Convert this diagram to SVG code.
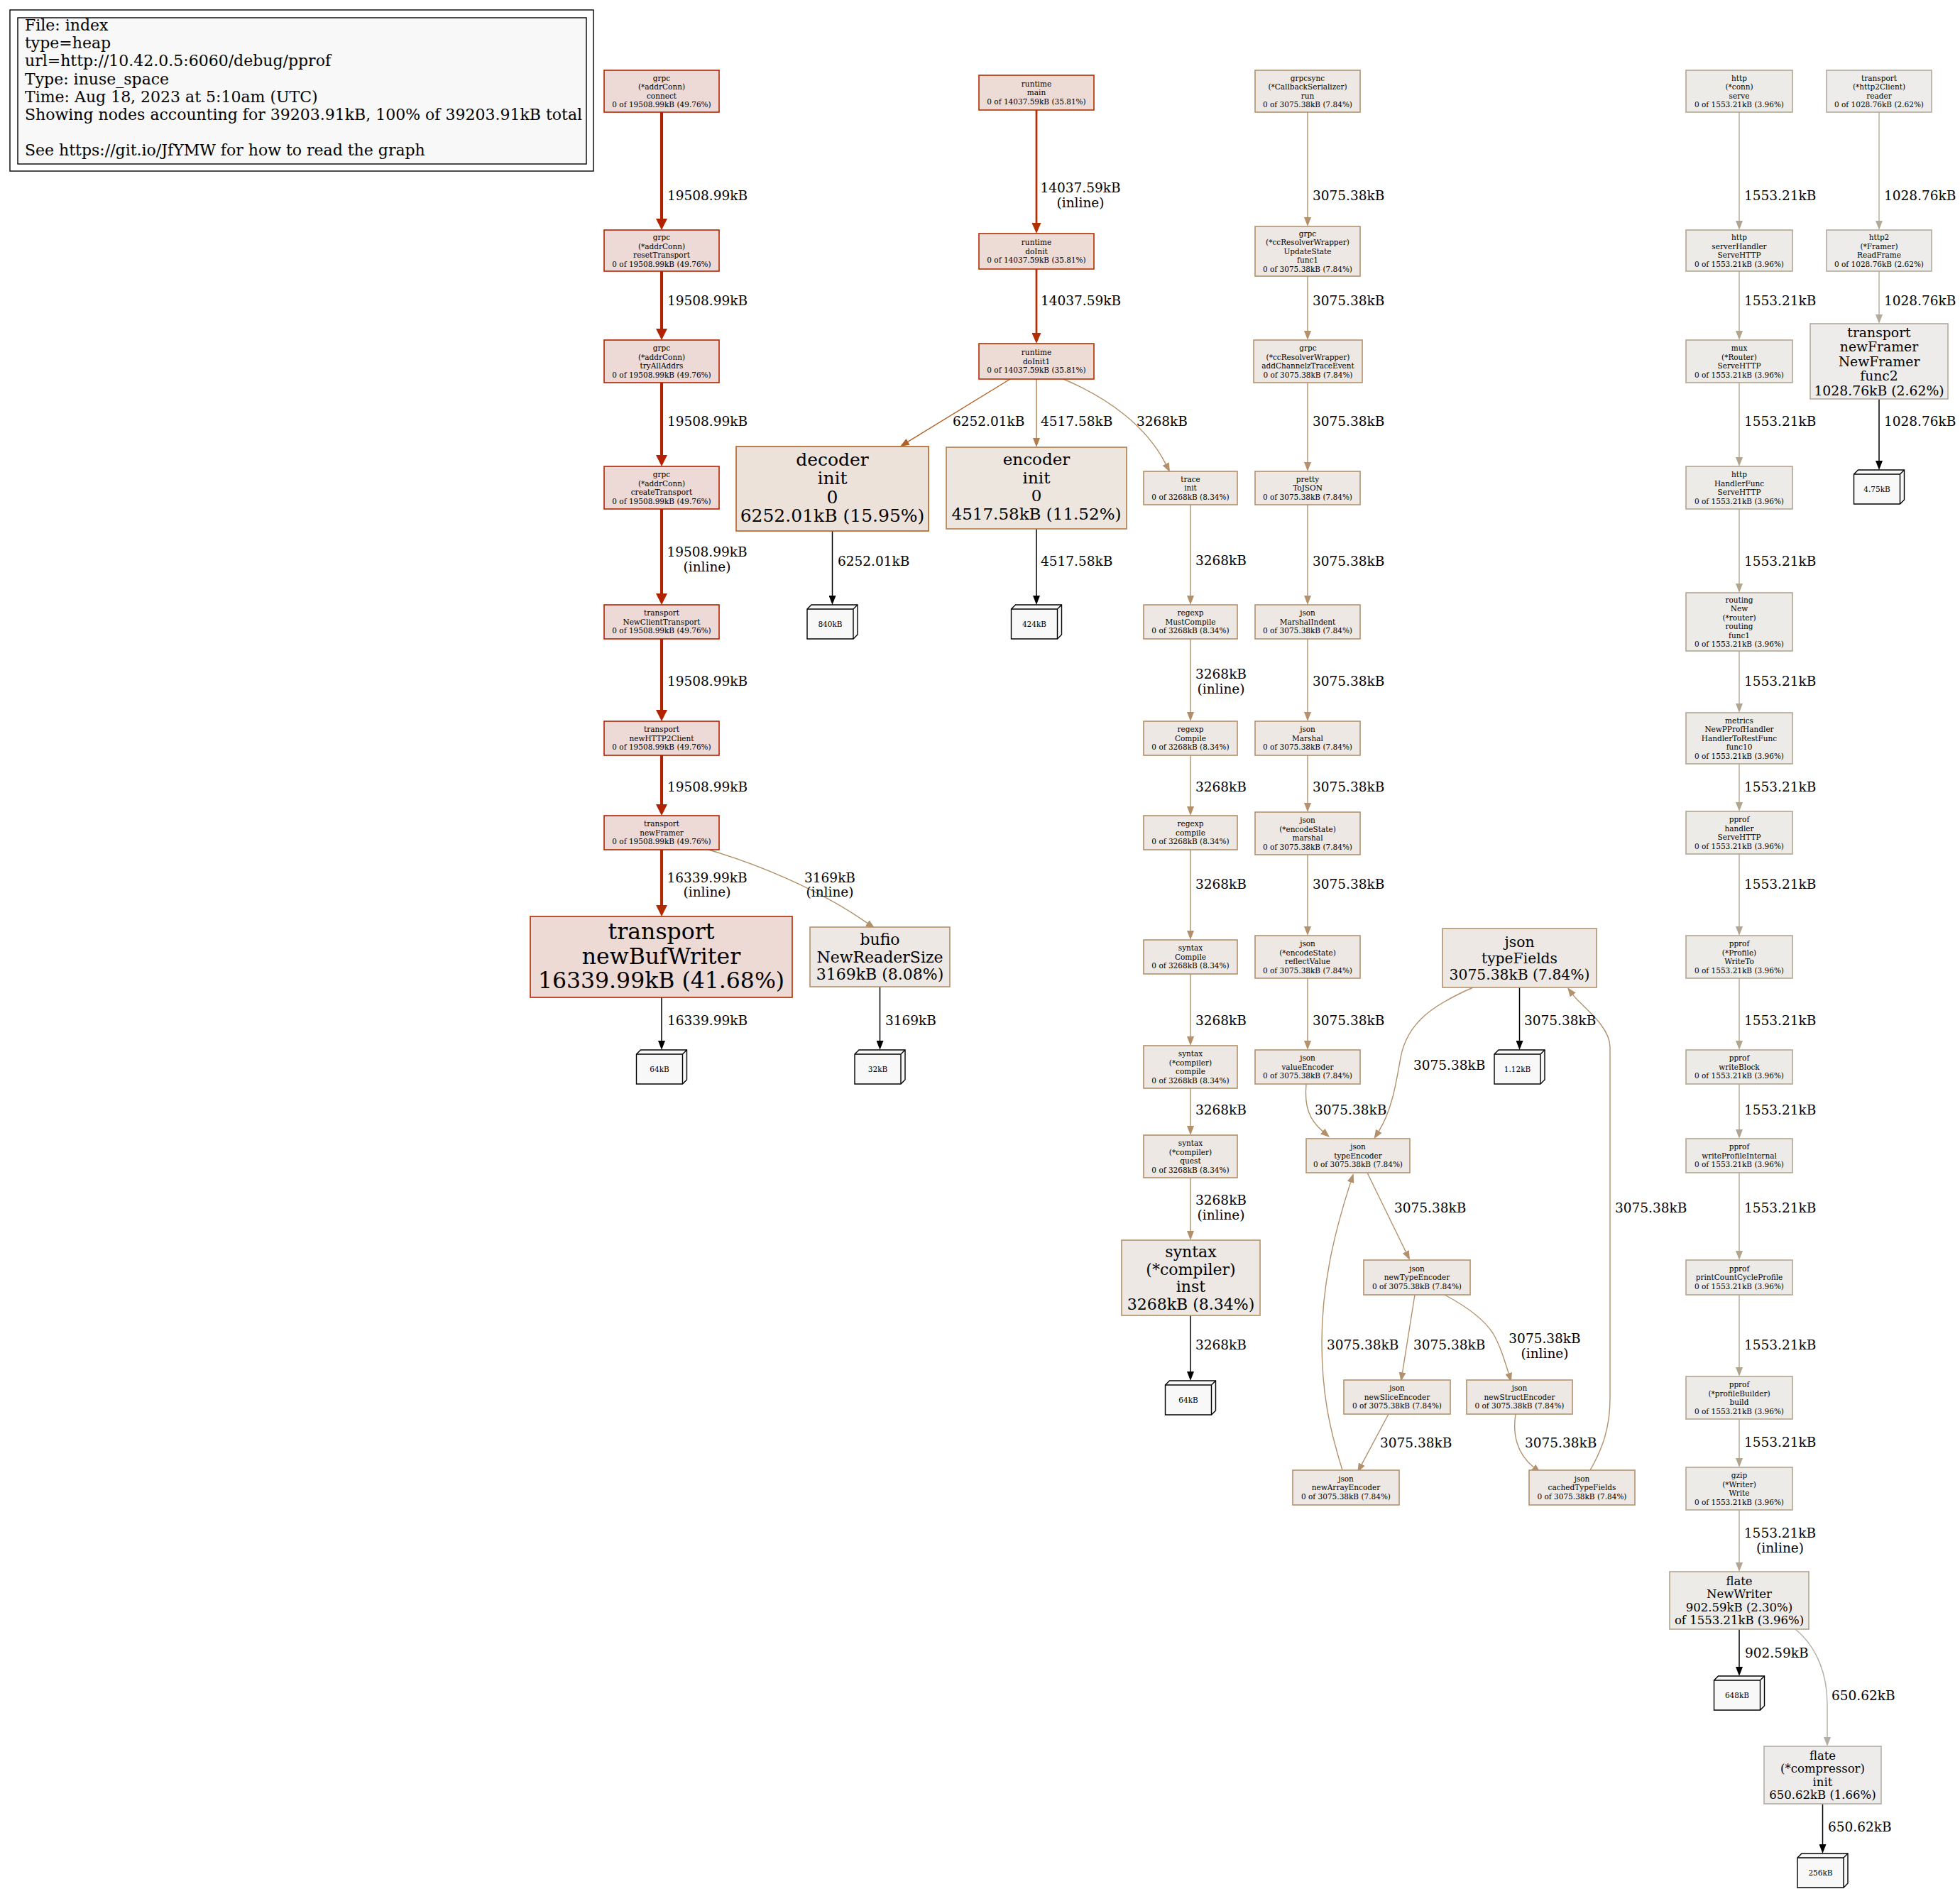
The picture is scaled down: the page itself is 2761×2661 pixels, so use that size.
<svg xmlns="http://www.w3.org/2000/svg" width="2761" height="2661" viewBox="0 0 2761 2661">
<style>
text{font-family:"DejaVu Serif","Liberation Serif",serif;fill:#000}
.n text{text-anchor:middle}
.s{font-size:10.5px}
.lb{font-size:18.5px}
.lm{font-size:18.5px;text-anchor:middle}
.lf{font-size:10.5px;text-anchor:middle}
.e path{fill:none}
.leaf path{fill:#f8f8f8;stroke:#000;stroke-width:1.4}
.leaf path.i{fill:none}
.r1 rect{fill:#edd9d5;stroke:#b22100;stroke-width:1.6}
.r2 rect{fill:#eddad5;stroke:#b22900;stroke-width:1.6}
.r3 rect{fill:#eddbd5;stroke:#b22f00;stroke-width:1.6}
.o1 rect{fill:#ede2da;stroke:#b26024;stroke-width:1.6}
.o2 rect{fill:#ede6df;stroke:#b27c4b;stroke-width:1.6}
.t1 rect{fill:#ede8e3;stroke:#b28f68;stroke-width:1.6}
.t2 rect{fill:#ede8e3;stroke:#b2906a;stroke-width:1.6}
.t3 rect{fill:#ede8e3;stroke:#b2916c;stroke-width:1.6}
.g1 rect{fill:#edebe8;stroke:#b2a58f;stroke-width:1.6}
.g2 rect{fill:#edecea;stroke:#b2aa9b;stroke-width:1.6}
.g3 rect{fill:#edeceb;stroke:#b2aea3;stroke-width:1.6}
</style>
<defs>
<marker id="aR1" markerUnits="userSpaceOnUse" markerWidth="16" markerHeight="16" viewBox="0 0 16 16" refX="0" refY="8" orient="auto"><path d="M0,0 L16,8 L0,16 z" fill="#b22100"/></marker>
<marker id="aR2" markerUnits="userSpaceOnUse" markerWidth="16" markerHeight="16" viewBox="0 0 16 16" refX="0" refY="8" orient="auto"><path d="M0,0 L16,8 L0,16 z" fill="#b22900"/></marker>
<marker id="aR3" markerUnits="userSpaceOnUse" markerWidth="15" markerHeight="13" viewBox="0 0 15 13" refX="0" refY="6.5" orient="auto"><path d="M0,0 L15,6.5 L0,13 z" fill="#b22f00"/></marker>
<marker id="aO1" markerUnits="userSpaceOnUse" markerWidth="13" markerHeight="10" viewBox="0 0 13 10" refX="0" refY="5" orient="auto"><path d="M0,0 L13,5 L0,10 z" fill="#b26024"/></marker>
<marker id="aO2" markerUnits="userSpaceOnUse" markerWidth="13" markerHeight="10" viewBox="0 0 13 10" refX="0" refY="5" orient="auto"><path d="M0,0 L13,5 L0,10 z" fill="#b27c4b"/></marker>
<marker id="aT1" markerUnits="userSpaceOnUse" markerWidth="13" markerHeight="10" viewBox="0 0 13 10" refX="0" refY="5" orient="auto"><path d="M0,0 L13,5 L0,10 z" fill="#b28f68"/></marker>
<marker id="aT2" markerUnits="userSpaceOnUse" markerWidth="13" markerHeight="10" viewBox="0 0 13 10" refX="0" refY="5" orient="auto"><path d="M0,0 L13,5 L0,10 z" fill="#b2906a"/></marker>
<marker id="aT3" markerUnits="userSpaceOnUse" markerWidth="13" markerHeight="10" viewBox="0 0 13 10" refX="0" refY="5" orient="auto"><path d="M0,0 L13,5 L0,10 z" fill="#b2916c"/></marker>
<marker id="aG1" markerUnits="userSpaceOnUse" markerWidth="13" markerHeight="10" viewBox="0 0 13 10" refX="0" refY="5" orient="auto"><path d="M0,0 L13,5 L0,10 z" fill="#b2a58f"/></marker>
<marker id="aG2" markerUnits="userSpaceOnUse" markerWidth="13" markerHeight="10" viewBox="0 0 13 10" refX="0" refY="5" orient="auto"><path d="M0,0 L13,5 L0,10 z" fill="#b2aa9b"/></marker>
<marker id="aG3" markerUnits="userSpaceOnUse" markerWidth="13" markerHeight="10" viewBox="0 0 13 10" refX="0" refY="5" orient="auto"><path d="M0,0 L13,5 L0,10 z" fill="#b2aea3"/></marker>
<marker id="aK" markerUnits="userSpaceOnUse" markerWidth="13" markerHeight="10" viewBox="0 0 13 10" refX="0" refY="5" orient="auto"><path d="M0,0 L13,5 L0,10 z" fill="#000"/></marker>
</defs>
<rect width="2761" height="2661" fill="#fff"/>

<g id="legend">
<rect x="14" y="14" width="822" height="227" fill="none" stroke="#000" stroke-width="1.4"/>
<rect x="25" y="25" width="801" height="206" fill="#f8f8f8" stroke="#000" stroke-width="1.4"/>
<text font-size="22px">
<tspan x="35" y="43">File: index</tspan>
<tspan x="35" y="68.2">type=heap</tspan>
<tspan x="35" y="93.4">url=http://10.42.0.5:6060/debug/pprof</tspan>
<tspan x="35" y="118.6">Type: inuse_space</tspan>
<tspan x="35" y="143.8">Time: Aug 18, 2023 at 5:10am (UTC)</tspan>
<tspan x="35" y="169">Showing nodes accounting for 39203.91kB, 100% of 39203.91kB total</tspan>
<tspan x="35" y="219.4">See https://git.io/JfYMW for how to read the graph</tspan>
</text>
</g>

<g id="edges" class="e">
<g stroke="#b22100" stroke-width="4.1">
<path d="M932,158 L932,308" marker-end="url(#aR1)"/>
<path d="M932,382 L932,463" marker-end="url(#aR1)"/>
<path d="M932,539 L932,641" marker-end="url(#aR1)"/>
<path d="M932,717 L932,836" marker-end="url(#aR1)"/>
<path d="M932,900 L932,1000" marker-end="url(#aR1)"/>
<path d="M932,1064 L932,1133" marker-end="url(#aR1)"/>
</g>
<path d="M932,1197 L932,1275" stroke="#b22900" stroke-width="4.1" marker-end="url(#aR2)"/>
<path d="M998,1197 C1060,1215 1150,1250 1221.8,1300.4" stroke="#b2906a" stroke-width="1.4" marker-end="url(#aT2)"/>
<g stroke="#b22f00" stroke-width="2.75">
<path d="M1460,155 L1460,314" marker-end="url(#aR3)"/>
<path d="M1460,379 L1460,469" marker-end="url(#aR3)"/>
</g>
<path d="M1423,534 L1279.1,622.2" stroke="#b26024" stroke-width="1.4" marker-end="url(#aO1)"/>
<path d="M1460,534 L1460,617" stroke="#b27c4b" stroke-width="1.4" marker-end="url(#aO2)"/>
<g stroke="#b28f68" stroke-width="1.4">
<path d="M1498,534 C1560,560 1615,600 1642.2,653.6" marker-end="url(#aT1)"/>
<path d="M1677,711 L1677,839" marker-end="url(#aT1)"/>
<path d="M1677,900 L1677,1003" marker-end="url(#aT1)"/>
<path d="M1677,1064 L1677,1136" marker-end="url(#aT1)"/>
<path d="M1677,1197 L1677,1311" marker-end="url(#aT1)"/>
<path d="M1677,1372 L1677,1460" marker-end="url(#aT1)"/>
<path d="M1677,1533 L1677,1586" marker-end="url(#aT1)"/>
<path d="M1677,1659 L1677,1734" marker-end="url(#aT1)"/>
</g>
<g stroke="#b2916c" stroke-width="1.4">
<path d="M1842,158 L1842,306" marker-end="url(#aT3)"/>
<path d="M1842,389 L1842,466" marker-end="url(#aT3)"/>
<path d="M1842,539 L1842,651" marker-end="url(#aT3)"/>
<path d="M1842,711 L1842,839" marker-end="url(#aT3)"/>
<path d="M1842,900 L1842,1003" marker-end="url(#aT3)"/>
<path d="M1842,1064 L1842,1131" marker-end="url(#aT3)"/>
<path d="M1842,1204 L1842,1305" marker-end="url(#aT3)"/>
<path d="M1842,1378 L1842,1466" marker-end="url(#aT3)"/>
<path d="M1840,1527 C1837,1560 1845,1578 1863.2,1593.6" marker-end="url(#aT3)"/>
<path d="M2075,1391 C2020,1415 1982,1440 1973,1490 C1966,1530 1960,1565 1942.4,1593.3" marker-end="url(#aT3)"/>
<path d="M1926,1652 L1980.3,1763.3" marker-end="url(#aT3)"/>
<path d="M1993,1824 L1975.6,1933.2" marker-end="url(#aT3)"/>
<path d="M2035,1824 C2065,1840 2090,1858 2103,1878 C2113,1895 2119,1915 2125.1,1934.4" marker-end="url(#aT3)"/>
<path d="M1956,1992 L1918.3,2062.6" marker-end="url(#aT3)"/>
<path d="M1891,2071 C1872,2010 1862,1960 1862,1890 C1862,1800 1885,1720 1902.6,1665.4" marker-end="url(#aT3)"/>
<path d="M2135,1992 C2130,2025 2140,2050 2160.2,2066.7" marker-end="url(#aT3)"/>
<path d="M2240,2071 C2258,2040 2268,2010 2268,1970 L2268,1475 C2268,1445 2227.8,1417.4 2215.8,1401.4" marker-end="url(#aT3)"/>
</g>
<g stroke="#b2a58f" stroke-width="1.4">
<path d="M2450,158 L2450,311" marker-end="url(#aG1)"/>
<path d="M2450,382 L2450,466" marker-end="url(#aG1)"/>
<path d="M2450,539 L2450,644" marker-end="url(#aG1)"/>
<path d="M2450,717 L2450,822" marker-end="url(#aG1)"/>
<path d="M2450,917 L2450,991" marker-end="url(#aG1)"/>
<path d="M2450,1076 L2450,1130" marker-end="url(#aG1)"/>
<path d="M2450,1203 L2450,1305" marker-end="url(#aG1)"/>
<path d="M2450,1378 L2450,1466" marker-end="url(#aG1)"/>
<path d="M2450,1527 L2450,1591" marker-end="url(#aG1)"/>
<path d="M2450,1652 L2450,1762" marker-end="url(#aG1)"/>
<path d="M2450,1824 L2450,1926" marker-end="url(#aG1)"/>
<path d="M2450,1999 L2450,2054" marker-end="url(#aG1)"/>
<path d="M2450,2127 L2450,2201" marker-end="url(#aG1)"/>
</g>
<path d="M2529,2295 C2560,2320 2574,2360 2574,2400 L2574,2447" stroke="#b2aea3" stroke-width="1.4" marker-end="url(#aG3)"/>
<g stroke="#b2aa9b" stroke-width="1.4">
<path d="M2647,158 L2647,311" marker-end="url(#aG2)"/>
<path d="M2647,382 L2647,443" marker-end="url(#aG2)"/>
</g>
<g stroke="#000" stroke-width="1.5">
<path d="M932,1405 L932,1466" marker-end="url(#aK)"/>
<path d="M1239.5,1390 L1239.5,1466" marker-end="url(#aK)"/>
<path d="M1172.5,748 L1172.5,839" marker-end="url(#aK)"/>
<path d="M1460,745 L1460,839" marker-end="url(#aK)"/>
<path d="M1677,1853 L1677,1932" marker-end="url(#aK)"/>
<path d="M2140.5,1391 L2140.5,1466" marker-end="url(#aK)"/>
<path d="M2647,562 L2647,649" marker-end="url(#aK)"/>
<path d="M2450,2295 L2450,2348" marker-end="url(#aK)"/>
<path d="M2567.5,2541 L2567.5,2598" marker-end="url(#aK)"/>
</g>
<g id="edge-labels">
<text class="lb" x="940" y="281.6">19508.99kB</text>
<text class="lb" x="940" y="429.6">19508.99kB</text>
<text class="lb" x="940" y="599.6">19508.99kB</text>
<text class="lm"><tspan x="996" y="783.6">19508.99kB</tspan><tspan x="996" y="804.6">(inline)</tspan></text>
<text class="lb" x="940" y="965.6">19508.99kB</text>
<text class="lb" x="940" y="1114.6">19508.99kB</text>
<text class="lm"><tspan x="996" y="1242.6">16339.99kB</tspan><tspan x="996" y="1262.6">(inline)</tspan></text>
<text class="lm"><tspan x="1169" y="1242.6">3169kB</tspan><tspan x="1169" y="1262.6">(inline)</tspan></text>
<text class="lb" x="940" y="1443.6">16339.99kB</text>
<text class="lb" x="1247" y="1443.6">3169kB</text>
<text class="lm"><tspan x="1522" y="270.6">14037.59kB</tspan><tspan x="1522" y="291.6">(inline)</tspan></text>
<text class="lb" x="1466" y="429.6">14037.59kB</text>
<text class="lb" x="1342" y="599.6">6252.01kB</text>
<text class="lb" x="1466" y="599.6">4517.58kB</text>
<text class="lb" x="1601" y="599.6">3268kB</text>
<text class="lb" x="1180" y="796.6">6252.01kB</text>
<text class="lb" x="1466" y="796.6">4517.58kB</text>
<text class="lb" x="1684" y="795.6">3268kB</text>
<text class="lm"><tspan x="1720" y="955.6">3268kB</tspan><tspan x="1720" y="976.6">(inline)</tspan></text>
<text class="lb" x="1684" y="1114.6">3268kB</text>
<text class="lb" x="1684" y="1251.6">3268kB</text>
<text class="lb" x="1684" y="1443.6">3268kB</text>
<text class="lb" x="1684" y="1569.6">3268kB</text>
<text class="lm"><tspan x="1720" y="1696.6">3268kB</tspan><tspan x="1720" y="1717.6">(inline)</tspan></text>
<text class="lb" x="1684" y="1900.6">3268kB</text>
<text class="lb" x="1849" y="281.6">3075.38kB</text>
<text class="lb" x="1849" y="429.6">3075.38kB</text>
<text class="lb" x="1849" y="599.6">3075.38kB</text>
<text class="lb" x="1849" y="796.6">3075.38kB</text>
<text class="lb" x="1849" y="965.6">3075.38kB</text>
<text class="lb" x="1849" y="1114.6">3075.38kB</text>
<text class="lb" x="1849" y="1251.6">3075.38kB</text>
<text class="lb" x="1849" y="1443.6">3075.38kB</text>
<text class="lb" x="1991" y="1506.6">3075.38kB</text>
<text class="lb" x="2147" y="1443.6">3075.38kB</text>
<text class="lb" x="1852" y="1569.6">3075.38kB</text>
<text class="lb" x="1964" y="1707.6">3075.38kB</text>
<text class="lb" x="2275" y="1707.6">3075.38kB</text>
<text class="lb" x="1869" y="1900.6">3075.38kB</text>
<text class="lb" x="1991" y="1900.6">3075.38kB</text>
<text class="lm"><tspan x="2176" y="1891.6">3075.38kB</tspan><tspan x="2176" y="1912.6">(inline)</tspan></text>
<text class="lb" x="1944" y="2038.6">3075.38kB</text>
<text class="lb" x="2148" y="2038.6">3075.38kB</text>
<text class="lb" x="2457" y="281.6">1553.21kB</text>
<text class="lb" x="2457" y="429.6">1553.21kB</text>
<text class="lb" x="2457" y="599.6">1553.21kB</text>
<text class="lb" x="2457" y="796.6">1553.21kB</text>
<text class="lb" x="2457" y="965.6">1553.21kB</text>
<text class="lb" x="2457" y="1114.6">1553.21kB</text>
<text class="lb" x="2457" y="1251.6">1553.21kB</text>
<text class="lb" x="2457" y="1443.6">1553.21kB</text>
<text class="lb" x="2457" y="1569.6">1553.21kB</text>
<text class="lb" x="2457" y="1707.6">1553.21kB</text>
<text class="lb" x="2457" y="1900.6">1553.21kB</text>
<text class="lb" x="2457" y="2037.6">1553.21kB</text>
<text class="lm"><tspan x="2507.5" y="2165.6">1553.21kB</tspan><tspan x="2507.5" y="2186.6">(inline)</tspan></text>
<text class="lb" x="2458" y="2334.6">902.59kB</text>
<text class="lb" x="2580" y="2394.6">650.62kB</text>
<text class="lb" x="2575" y="2579.6">650.62kB</text>
<text class="lb" x="2654" y="281.6">1028.76kB</text>
<text class="lb" x="2654" y="429.6">1028.76kB</text>
<text class="lb" x="2654" y="599.6">1028.76kB</text>
</g>
</g>

<!-- grpc column -->
<g id="N1" class="n r1"><rect x="851" y="99" width="162" height="59"/><text class="s"><tspan x="932" y="113.6">grpc</tspan><tspan x="932" y="126.1">(*addrConn)</tspan><tspan x="932" y="138.6">connect</tspan><tspan x="932" y="151.1">0 of 19508.99kB (49.76%)</tspan></text></g>
<g id="N2" class="n r1"><rect x="851" y="324" width="162" height="58"/><text class="s"><tspan x="932" y="338.1">grpc</tspan><tspan x="932" y="350.6">(*addrConn)</tspan><tspan x="932" y="363.1">resetTransport</tspan><tspan x="932" y="375.6">0 of 19508.99kB (49.76%)</tspan></text></g>
<g id="N3" class="n r1"><rect x="851" y="479" width="162" height="60"/><text class="s"><tspan x="932" y="494.1">grpc</tspan><tspan x="932" y="506.6">(*addrConn)</tspan><tspan x="932" y="519.1">tryAllAddrs</tspan><tspan x="932" y="531.6">0 of 19508.99kB (49.76%)</tspan></text></g>
<g id="N4" class="n r1"><rect x="851" y="657" width="162" height="60"/><text class="s"><tspan x="932" y="672.1">grpc</tspan><tspan x="932" y="684.6">(*addrConn)</tspan><tspan x="932" y="697.1">createTransport</tspan><tspan x="932" y="709.6">0 of 19508.99kB (49.76%)</tspan></text></g>
<g id="N5" class="n r1"><rect x="851" y="852" width="162" height="48"/><text class="s"><tspan x="932" y="867.3">transport</tspan><tspan x="932" y="879.8">NewClientTransport</tspan><tspan x="932" y="892.3">0 of 19508.99kB (49.76%)</tspan></text></g>
<g id="N6" class="n r1"><rect x="851" y="1016" width="162" height="48"/><text class="s"><tspan x="932" y="1031.3">transport</tspan><tspan x="932" y="1043.8">newHTTP2Client</tspan><tspan x="932" y="1056.3">0 of 19508.99kB (49.76%)</tspan></text></g>
<g id="N7" class="n r1"><rect x="851" y="1149" width="162" height="48"/><text class="s"><tspan x="932" y="1164.3">transport</tspan><tspan x="932" y="1176.8">newFramer</tspan><tspan x="932" y="1189.3">0 of 19508.99kB (49.76%)</tspan></text></g>
<g id="N8" class="n r2"><rect x="747" y="1291" width="369" height="114"/><text font-size="31.5px"><tspan x="931.5" y="1323">transport</tspan><tspan x="931.5" y="1357.5">newBufWriter</tspan><tspan x="931.5" y="1392">16339.99kB (41.68%)</tspan></text></g>
<g id="N9" class="n t2"><rect x="1141" y="1306" width="197" height="84"/><text font-size="22px"><tspan x="1239.5" y="1331.4">bufio</tspan><tspan x="1239.5" y="1355.9">NewReaderSize</tspan><tspan x="1239.5" y="1380.4">3169kB (8.08%)</tspan></text></g>

<!-- runtime column -->
<g id="N10" class="n r3"><rect x="1379" y="106" width="162" height="49"/><text class="s"><tspan x="1460" y="121.8">runtime</tspan><tspan x="1460" y="134.3">main</tspan><tspan x="1460" y="146.8">0 of 14037.59kB (35.81%)</tspan></text></g>
<g id="N11" class="n r3"><rect x="1379" y="329" width="162" height="50"/><text class="s"><tspan x="1460" y="345.3">runtime</tspan><tspan x="1460" y="357.8">doInit</tspan><tspan x="1460" y="370.3">0 of 14037.59kB (35.81%)</tspan></text></g>
<g id="N12" class="n r3"><rect x="1379" y="484" width="162" height="50"/><text class="s"><tspan x="1460" y="500.3">runtime</tspan><tspan x="1460" y="512.8">doInit1</tspan><tspan x="1460" y="525.3">0 of 14037.59kB (35.81%)</tspan></text></g>
<g id="N13" class="n o1"><rect x="1037" y="629" width="271" height="119"/><text font-size="25px"><tspan x="1172.5" y="655.5">decoder</tspan><tspan x="1172.5" y="682">init</tspan><tspan x="1172.5" y="708.5">0</tspan><tspan x="1172.5" y="735">6252.01kB (15.95%)</tspan></text></g>
<g id="N14" class="n o2"><rect x="1333" y="630" width="254" height="115"/><text font-size="23px"><tspan x="1460" y="655">encoder</tspan><tspan x="1460" y="680.5">init</tspan><tspan x="1460" y="706">0</tspan><tspan x="1460" y="731.5">4517.58kB (11.52%)</tspan></text></g>

<!-- trace / regexp column -->
<g id="N15" class="n t1"><rect x="1611" y="664" width="132" height="47"/><text class="s"><tspan x="1677" y="678.8">trace</tspan><tspan x="1677" y="691.3">init</tspan><tspan x="1677" y="703.8">0 of 3268kB (8.34%)</tspan></text></g>
<g id="N16" class="n t1"><rect x="1611" y="852" width="132" height="48"/><text class="s"><tspan x="1677" y="867.3">regexp</tspan><tspan x="1677" y="879.8">MustCompile</tspan><tspan x="1677" y="892.3">0 of 3268kB (8.34%)</tspan></text></g>
<g id="N17" class="n t1"><rect x="1611" y="1016" width="132" height="48"/><text class="s"><tspan x="1677" y="1031.3">regexp</tspan><tspan x="1677" y="1043.8">Compile</tspan><tspan x="1677" y="1056.3">0 of 3268kB (8.34%)</tspan></text></g>
<g id="N18" class="n t1"><rect x="1611" y="1149" width="132" height="48"/><text class="s"><tspan x="1677" y="1164.3">regexp</tspan><tspan x="1677" y="1176.8">compile</tspan><tspan x="1677" y="1189.3">0 of 3268kB (8.34%)</tspan></text></g>
<g id="N19" class="n t1"><rect x="1611" y="1324" width="132" height="48"/><text class="s"><tspan x="1677" y="1339.3">syntax</tspan><tspan x="1677" y="1351.8">Compile</tspan><tspan x="1677" y="1364.3">0 of 3268kB (8.34%)</tspan></text></g>
<g id="N20" class="n t1"><rect x="1611" y="1473" width="132" height="60"/><text class="s"><tspan x="1677" y="1488.1">syntax</tspan><tspan x="1677" y="1500.6">(*compiler)</tspan><tspan x="1677" y="1513.1">compile</tspan><tspan x="1677" y="1525.6">0 of 3268kB (8.34%)</tspan></text></g>
<g id="N21" class="n t1"><rect x="1611" y="1599" width="132" height="60"/><text class="s"><tspan x="1677" y="1614.1">syntax</tspan><tspan x="1677" y="1626.6">(*compiler)</tspan><tspan x="1677" y="1639.1">quest</tspan><tspan x="1677" y="1651.6">0 of 3268kB (8.34%)</tspan></text></g>
<g id="N22" class="n t1"><rect x="1580" y="1747" width="195" height="106"/><text font-size="22px"><tspan x="1677.5" y="1771.2">syntax</tspan><tspan x="1677.5" y="1795.7">(*compiler)</tspan><tspan x="1677.5" y="1820.2">inst</tspan><tspan x="1677.5" y="1844.7">3268kB (8.34%)</tspan></text></g>

<!-- json column -->
<g id="N23" class="n t3"><rect x="1768" y="99" width="148" height="59"/><text class="s"><tspan x="1842" y="113.6">grpcsync</tspan><tspan x="1842" y="126.1">(*CallbackSerializer)</tspan><tspan x="1842" y="138.6">run</tspan><tspan x="1842" y="151.1">0 of 3075.38kB (7.84%)</tspan></text></g>
<g id="N24" class="n t3"><rect x="1768" y="319" width="148" height="70"/><text class="s"><tspan x="1842" y="332.8">grpc</tspan><tspan x="1842" y="345.3">(*ccResolverWrapper)</tspan><tspan x="1842" y="357.8">UpdateState</tspan><tspan x="1842" y="370.3">func1</tspan><tspan x="1842" y="382.8">0 of 3075.38kB (7.84%)</tspan></text></g>
<g id="N25" class="n t3"><rect x="1766" y="479" width="153" height="60"/><text class="s"><tspan x="1842.5" y="494.1">grpc</tspan><tspan x="1842.5" y="506.6">(*ccResolverWrapper)</tspan><tspan x="1842.5" y="519.1">addChannelzTraceEvent</tspan><tspan x="1842.5" y="531.6">0 of 3075.38kB (7.84%)</tspan></text></g>
<g id="N26" class="n t3"><rect x="1768" y="664" width="148" height="47"/><text class="s"><tspan x="1842" y="678.8">pretty</tspan><tspan x="1842" y="691.3">ToJSON</tspan><tspan x="1842" y="703.8">0 of 3075.38kB (7.84%)</tspan></text></g>
<g id="N27" class="n t3"><rect x="1768" y="852" width="148" height="48"/><text class="s"><tspan x="1842" y="867.3">json</tspan><tspan x="1842" y="879.8">MarshalIndent</tspan><tspan x="1842" y="892.3">0 of 3075.38kB (7.84%)</tspan></text></g>
<g id="N28" class="n t3"><rect x="1768" y="1016" width="148" height="48"/><text class="s"><tspan x="1842" y="1031.3">json</tspan><tspan x="1842" y="1043.8">Marshal</tspan><tspan x="1842" y="1056.3">0 of 3075.38kB (7.84%)</tspan></text></g>
<g id="N29" class="n t3"><rect x="1768" y="1144" width="148" height="60"/><text class="s"><tspan x="1842" y="1159.1">json</tspan><tspan x="1842" y="1171.6">(*encodeState)</tspan><tspan x="1842" y="1184.1">marshal</tspan><tspan x="1842" y="1196.6">0 of 3075.38kB (7.84%)</tspan></text></g>
<g id="N30" class="n t3"><rect x="1768" y="1318" width="148" height="60"/><text class="s"><tspan x="1842" y="1333.1">json</tspan><tspan x="1842" y="1345.6">(*encodeState)</tspan><tspan x="1842" y="1358.1">reflectValue</tspan><tspan x="1842" y="1370.6">0 of 3075.38kB (7.84%)</tspan></text></g>
<g id="N31" class="n t3"><rect x="1768" y="1479" width="148" height="48"/><text class="s"><tspan x="1842" y="1494.3">json</tspan><tspan x="1842" y="1506.8">valueEncoder</tspan><tspan x="1842" y="1519.3">0 of 3075.38kB (7.84%)</tspan></text></g>
<g id="N32" class="n t3"><rect x="1840" y="1604" width="146" height="48"/><text class="s"><tspan x="1913" y="1619.3">json</tspan><tspan x="1913" y="1631.8">typeEncoder</tspan><tspan x="1913" y="1644.3">0 of 3075.38kB (7.84%)</tspan></text></g>
<g id="N33" class="n t3"><rect x="1921" y="1775" width="150" height="49"/><text class="s"><tspan x="1996" y="1790.8">json</tspan><tspan x="1996" y="1803.3">newTypeEncoder</tspan><tspan x="1996" y="1815.8">0 of 3075.38kB (7.84%)</tspan></text></g>
<g id="N34" class="n t3"><rect x="1893" y="1944" width="150" height="48"/><text class="s"><tspan x="1968" y="1959.3">json</tspan><tspan x="1968" y="1971.8">newSliceEncoder</tspan><tspan x="1968" y="1984.3">0 of 3075.38kB (7.84%)</tspan></text></g>
<g id="N35" class="n t3"><rect x="2066" y="1944" width="149" height="48"/><text class="s"><tspan x="2140.5" y="1959.3">json</tspan><tspan x="2140.5" y="1971.8">newStructEncoder</tspan><tspan x="2140.5" y="1984.3">0 of 3075.38kB (7.84%)</tspan></text></g>
<g id="N36" class="n t3"><rect x="1821" y="2071" width="150" height="49"/><text class="s"><tspan x="1896" y="2086.8">json</tspan><tspan x="1896" y="2099.3">newArrayEncoder</tspan><tspan x="1896" y="2111.8">0 of 3075.38kB (7.84%)</tspan></text></g>
<g id="N37" class="n t3"><rect x="2154" y="2071" width="149" height="49"/><text class="s"><tspan x="2228.5" y="2086.8">json</tspan><tspan x="2228.5" y="2099.3">cachedTypeFields</tspan><tspan x="2228.5" y="2111.8">0 of 3075.38kB (7.84%)</tspan></text></g>
<g id="N38" class="n t3"><rect x="2032" y="1308" width="217" height="83"/><text font-size="20.3px"><tspan x="2140.5" y="1333.8">json</tspan><tspan x="2140.5" y="1356.8">typeFields</tspan><tspan x="2140.5" y="1379.8">3075.38kB (7.84%)</tspan></text></g>

<!-- http column -->
<g id="N39" class="n g1"><rect x="2375" y="99" width="150" height="59"/><text class="s"><tspan x="2450" y="113.6">http</tspan><tspan x="2450" y="126.1">(*conn)</tspan><tspan x="2450" y="138.6">serve</tspan><tspan x="2450" y="151.1">0 of 1553.21kB (3.96%)</tspan></text></g>
<g id="N40" class="n g1"><rect x="2375" y="324" width="150" height="58"/><text class="s"><tspan x="2450" y="338.1">http</tspan><tspan x="2450" y="350.6">serverHandler</tspan><tspan x="2450" y="363.1">ServeHTTP</tspan><tspan x="2450" y="375.6">0 of 1553.21kB (3.96%)</tspan></text></g>
<g id="N41" class="n g1"><rect x="2375" y="479" width="150" height="60"/><text class="s"><tspan x="2450" y="494.1">mux</tspan><tspan x="2450" y="506.6">(*Router)</tspan><tspan x="2450" y="519.1">ServeHTTP</tspan><tspan x="2450" y="531.6">0 of 1553.21kB (3.96%)</tspan></text></g>
<g id="N42" class="n g1"><rect x="2375" y="657" width="150" height="60"/><text class="s"><tspan x="2450" y="672.1">http</tspan><tspan x="2450" y="684.6">HandlerFunc</tspan><tspan x="2450" y="697.1">ServeHTTP</tspan><tspan x="2450" y="709.6">0 of 1553.21kB (3.96%)</tspan></text></g>
<g id="N43" class="n g1"><rect x="2375" y="835" width="150" height="82"/><text class="s"><tspan x="2450" y="848.6">routing</tspan><tspan x="2450" y="861.1">New</tspan><tspan x="2450" y="873.6">(*router)</tspan><tspan x="2450" y="886.1">routing</tspan><tspan x="2450" y="898.6">func1</tspan><tspan x="2450" y="911.1">0 of 1553.21kB (3.96%)</tspan></text></g>
<g id="N44" class="n g1"><rect x="2375" y="1004" width="150" height="72"/><text class="s"><tspan x="2450" y="1018.8">metrics</tspan><tspan x="2450" y="1031.3">NewPProfHandler</tspan><tspan x="2450" y="1043.8">HandlerToRestFunc</tspan><tspan x="2450" y="1056.3">func10</tspan><tspan x="2450" y="1068.8">0 of 1553.21kB (3.96%)</tspan></text></g>
<g id="N45" class="n g1"><rect x="2375" y="1143" width="150" height="60"/><text class="s"><tspan x="2450" y="1158.1">pprof</tspan><tspan x="2450" y="1170.6">handler</tspan><tspan x="2450" y="1183.1">ServeHTTP</tspan><tspan x="2450" y="1195.6">0 of 1553.21kB (3.96%)</tspan></text></g>
<g id="N46" class="n g1"><rect x="2375" y="1318" width="150" height="60"/><text class="s"><tspan x="2450" y="1333.1">pprof</tspan><tspan x="2450" y="1345.6">(*Profile)</tspan><tspan x="2450" y="1358.1">WriteTo</tspan><tspan x="2450" y="1370.6">0 of 1553.21kB (3.96%)</tspan></text></g>
<g id="N47" class="n g1"><rect x="2375" y="1479" width="150" height="48"/><text class="s"><tspan x="2450" y="1494.3">pprof</tspan><tspan x="2450" y="1506.8">writeBlock</tspan><tspan x="2450" y="1519.3">0 of 1553.21kB (3.96%)</tspan></text></g>
<g id="N48" class="n g1"><rect x="2375" y="1604" width="150" height="48"/><text class="s"><tspan x="2450" y="1619.3">pprof</tspan><tspan x="2450" y="1631.8">writeProfileInternal</tspan><tspan x="2450" y="1644.3">0 of 1553.21kB (3.96%)</tspan></text></g>
<g id="N49" class="n g1"><rect x="2375" y="1775" width="150" height="49"/><text class="s"><tspan x="2450" y="1790.8">pprof</tspan><tspan x="2450" y="1803.3">printCountCycleProfile</tspan><tspan x="2450" y="1815.8">0 of 1553.21kB (3.96%)</tspan></text></g>
<g id="N50" class="n g1"><rect x="2375" y="1939" width="150" height="60"/><text class="s"><tspan x="2450" y="1954.1">pprof</tspan><tspan x="2450" y="1966.6">(*profileBuilder)</tspan><tspan x="2450" y="1979.1">build</tspan><tspan x="2450" y="1991.6">0 of 1553.21kB (3.96%)</tspan></text></g>
<g id="N51" class="n g1"><rect x="2375" y="2067" width="150" height="60"/><text class="s"><tspan x="2450" y="2082.1">gzip</tspan><tspan x="2450" y="2094.6">(*Writer)</tspan><tspan x="2450" y="2107.1">Write</tspan><tspan x="2450" y="2119.6">0 of 1553.21kB (3.96%)</tspan></text></g>
<g id="N52" class="n g1"><rect x="2352" y="2214" width="196" height="81"/><text font-size="16.5px"><tspan x="2450" y="2232.7">flate</tspan><tspan x="2450" y="2251.2">NewWriter</tspan><tspan x="2450" y="2269.7">902.59kB (2.30%)</tspan><tspan x="2450" y="2288.2">of 1553.21kB (3.96%)</tspan></text></g>
<g id="N53" class="n g3"><rect x="2485" y="2460" width="165" height="81"/><text font-size="16.5px"><tspan x="2567.5" y="2478.7">flate</tspan><tspan x="2567.5" y="2497.2">(*compressor)</tspan><tspan x="2567.5" y="2515.7">init</tspan><tspan x="2567.5" y="2534.2">650.62kB (1.66%)</tspan></text></g>

<!-- transport http2 column -->
<g id="N54" class="n g2"><rect x="2573" y="99" width="148" height="59"/><text class="s"><tspan x="2647" y="113.6">transport</tspan><tspan x="2647" y="126.1">(*http2Client)</tspan><tspan x="2647" y="138.6">reader</tspan><tspan x="2647" y="151.1">0 of 1028.76kB (2.62%)</tspan></text></g>
<g id="N55" class="n g2"><rect x="2573" y="324" width="148" height="58"/><text class="s"><tspan x="2647" y="338.1">http2</tspan><tspan x="2647" y="350.6">(*Framer)</tspan><tspan x="2647" y="363.1">ReadFrame</tspan><tspan x="2647" y="375.6">0 of 1028.76kB (2.62%)</tspan></text></g>
<g id="N56" class="n g2"><rect x="2550" y="456" width="194" height="106"/><text font-size="18.8px"><tspan x="2647" y="474.8">transport</tspan><tspan x="2647" y="495.3">newFramer</tspan><tspan x="2647" y="515.8">NewFramer</tspan><tspan x="2647" y="536.3">func2</tspan><tspan x="2647" y="556.8">1028.76kB (2.62%)</tspan></text></g>

<!-- leaf (tag) nodes -->
<g id="L1" class="leaf"><path d="M896.5,1485 L902.5,1479 L967.5,1479 L967.5,1521 L961.5,1527 L896.5,1527 Z"/><path class="i" d="M896.5,1485 L961.5,1485 L961.5,1527 M961.5,1485 L967.5,1479"/><text class="lf" x="929" y="1509.8">64kB</text></g>
<g id="L2" class="leaf"><path d="M1204,1485 L1210,1479 L1275,1479 L1275,1521 L1269,1527 L1204,1527 Z"/><path class="i" d="M1204,1485 L1269,1485 L1269,1527 M1269,1485 L1275,1479"/><text class="lf" x="1236.5" y="1509.8">32kB</text></g>
<g id="L3" class="leaf"><path d="M1137,858 L1143,852 L1208,852 L1208,894 L1202,900 L1137,900 Z"/><path class="i" d="M1137,858 L1202,858 L1202,900 M1202,858 L1208,852"/><text class="lf" x="1169.5" y="882.8">840kB</text></g>
<g id="L4" class="leaf"><path d="M1424.5,858 L1430.5,852 L1495.5,852 L1495.5,894 L1489.5,900 L1424.5,900 Z"/><path class="i" d="M1424.5,858 L1489.5,858 L1489.5,900 M1489.5,858 L1495.5,852"/><text class="lf" x="1457" y="882.8">424kB</text></g>
<g id="L5" class="leaf"><path d="M1641.5,1951 L1647.5,1945 L1712.5,1945 L1712.5,1987 L1706.5,1993 L1641.5,1993 Z"/><path class="i" d="M1641.5,1951 L1706.5,1951 L1706.5,1993 M1706.5,1951 L1712.5,1945"/><text class="lf" x="1674" y="1975.8">64kB</text></g>
<g id="L6" class="leaf"><path d="M2105,1485 L2111,1479 L2176,1479 L2176,1521 L2170,1527 L2105,1527 Z"/><path class="i" d="M2105,1485 L2170,1485 L2170,1527 M2170,1485 L2176,1479"/><text class="lf" x="2137.5" y="1509.8">1.12kB</text></g>
<g id="L7" class="leaf"><path d="M2611.5,668 L2617.5,662 L2682.5,662 L2682.5,704 L2676.5,710 L2611.5,710 Z"/><path class="i" d="M2611.5,668 L2676.5,668 L2676.5,710 M2676.5,668 L2682.5,662"/><text class="lf" x="2644" y="692.8">4.75kB</text></g>
<g id="L8" class="leaf"><path d="M2414.5,2367 L2420.5,2361 L2485.5,2361 L2485.5,2403 L2479.5,2409 L2414.5,2409 Z"/><path class="i" d="M2414.5,2367 L2479.5,2367 L2479.5,2409 M2479.5,2367 L2485.5,2361"/><text class="lf" x="2447" y="2391.8">648kB</text></g>
<g id="L9" class="leaf"><path d="M2532,2617 L2538,2611 L2603,2611 L2603,2653 L2597,2659 L2532,2659 Z"/><path class="i" d="M2532,2617 L2597,2617 L2597,2659 M2597,2617 L2603,2611"/><text class="lf" x="2564.5" y="2641.8">256kB</text></g>
</svg>
